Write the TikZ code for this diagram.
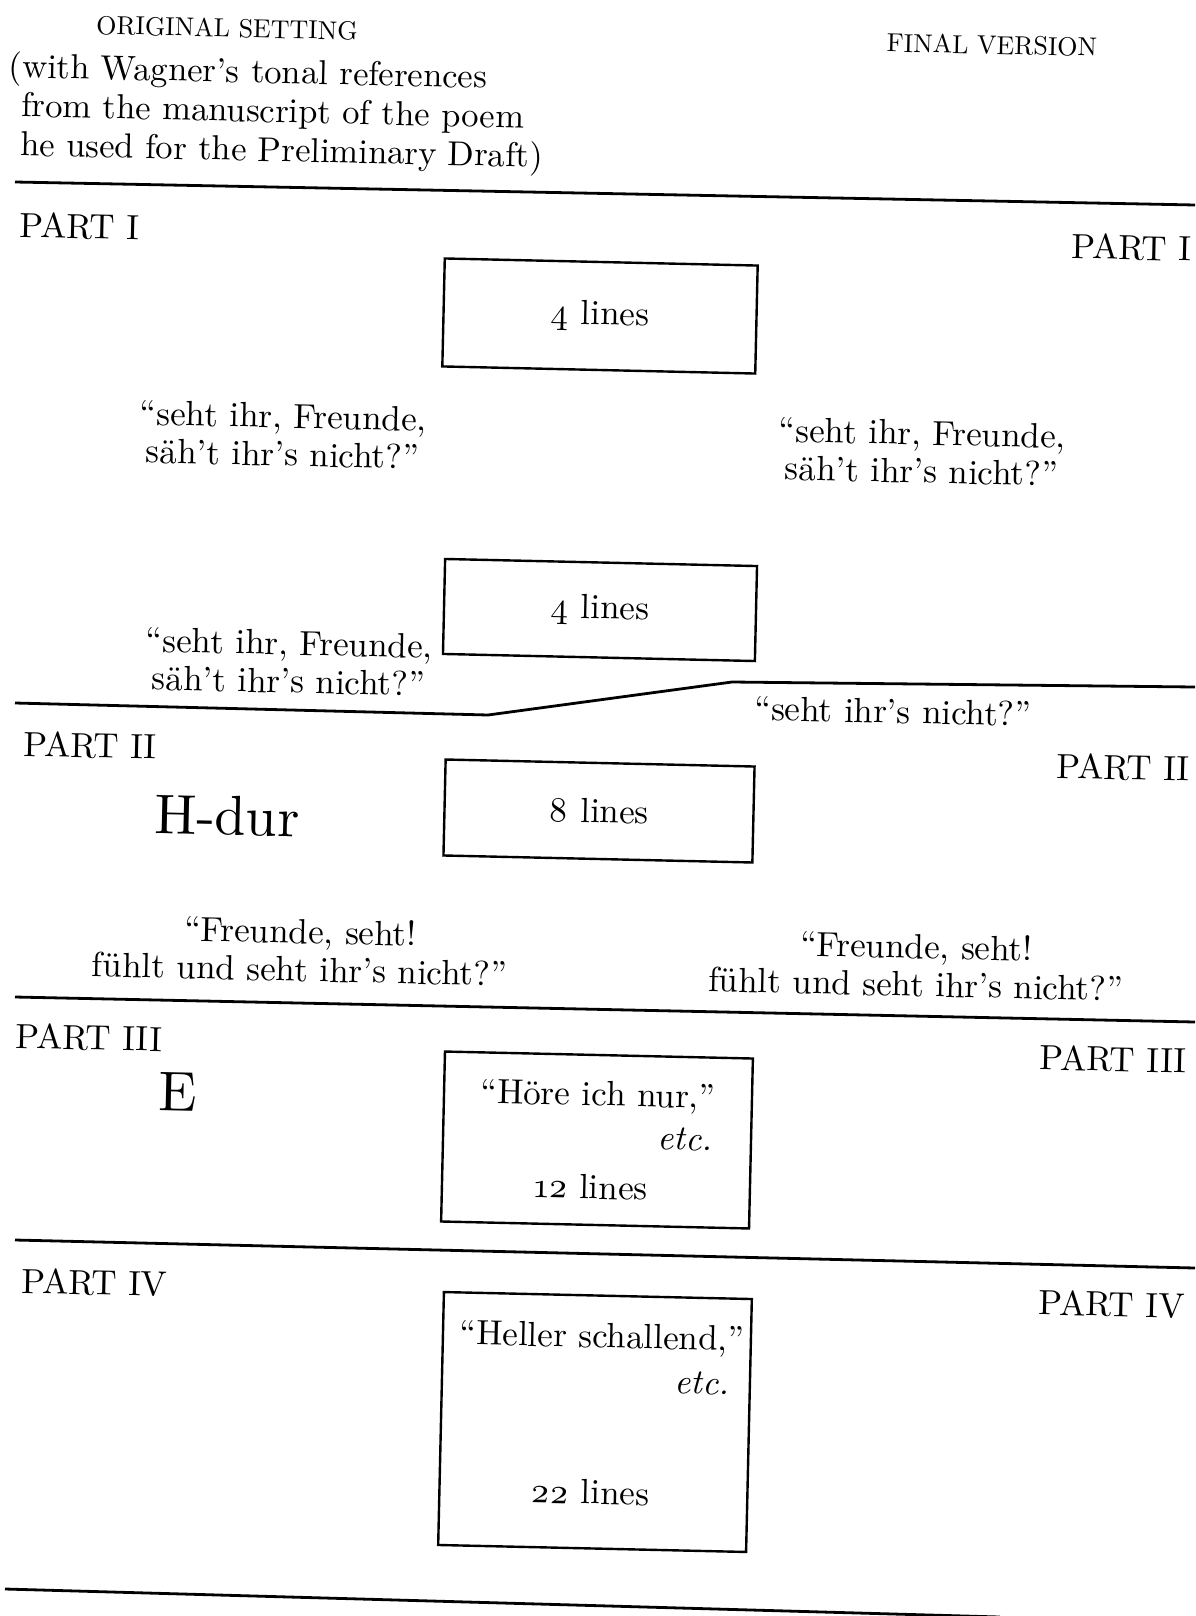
\documentclass[tikz,border=0pt]{standalone}
\usepackage{fontspec}
\setmainfont{lmroman10-regular.otf}[ItalicFont=lmroman10-italic.otf]
\usetikzlibrary{positioning}

\begin{document}
\begin{tikzpicture}[
			x=0.5pt, y=-0.5pt,
			every node/.style={
					inner sep=0pt,
					rotate=-1.3
				},
			txt/.style={
					font=\fontsize{17.5}{19}\selectfont,
					align=center
				},
			head/.style={font=\fontsize{13}{15}\selectfont},
			key/.style={font=\fontsize{28}{30}\selectfont},
			linesbox/.style={
					draw,
					line width=1.2pt,
					font=\fontsize{17.5}{19}\selectfont
				},
			rule/.style={line width=1.4pt}
		]

		\path[use as bounding box, fill=white] (0,0) rectangle (1195,1616);

		% headings
		\node[head] (orig) at (227,28) {ORIGINAL SETTING};
		\node[txt, align=left, anchor=west,
			font=\fontsize{17.3}{19.5}\selectfont] (note) at (21,108)
		{\llap{(}with Wagner’s tonal references\\
			from the manuscript of the poem\\
			he used for the Preliminary Draft)};
		\node[head] (final) at (992,45) {FINAL VERSION};

		\draw[rule] (15,182) -- (1195,205);

		% part I
		\node[txt, anchor=west] (p1l) at (19,225) {PART I};
		\node[txt, anchor=east] (p1r) at (1192,249) {PART I};
		\node[linesbox, minimum width=156.5pt, minimum height=54pt]
		(box1) at (600,316) {\oldstylenums{4} lines};
		\node[txt] (q1l) at (283,435) {“seht ihr, Freunde,\\säh’t ihr’s nicht?”};
		\node[txt] (q1r) at (922,452) {“seht ihr, Freunde,\\säh’t ihr’s nicht?”};
		\node[linesbox, minimum width=156pt, minimum height=47.5pt]
		(box2) at (600,610) {\oldstylenums{4} lines};
		\node[txt] (q2l) at (289,662) {“seht ihr, Freunde,\\säh’t ihr’s nicht?”};

		\draw[rule] (15,703) -- (488,715) -- (732,682) -- (1195,687);
		\node[txt] (q2r) at (893,711) {“seht ihr’s nicht?”};

		% part II
		\node[txt, anchor=west] (p2l) at (23,744) {PART II};
		\node[txt, anchor=east] (p2r) at (1190,769) {PART II};
		\node[key] (hdur) at (227,816) {H-dur};
		\node[linesbox, minimum width=154.5pt, minimum height=48pt]
		(box3) at (599,811) {\oldstylenums{8} lines};
		\node[txt] (q3l) at (300,950) {“Freunde, seht!\\fühlt und seht ihr’s nicht?”};
		\node[txt] (q3r) at (916,965) {“Freunde, seht!\\fühlt und seht ihr’s nicht?”};

		\draw[rule] (15,997) -- (1195,1022);

		% part III
		\node[txt, anchor=west] (p3l) at (15,1036) {PART III};
		\node[txt, anchor=east] (p3r) at (1187,1061) {PART III};
		\node[key] (ekey) at (178,1092) {E};
		\node[linesbox, minimum width=154pt, minimum height=85pt]
		(box4) at (597,1140) {};
		\node[txt] (hore) at (598,1097) {“Höre ich nur,”};
		\node[txt, anchor=east] (etc4) at (713,1140) {\textit{etc.}};
		\node[txt] (n12) at (591,1187) {\oldstylenums{12} lines};

		\draw[rule] (15,1240) -- (1195,1268);

		% part IV
		\node[txt, anchor=west] (p4l) at (21,1281) {PART IV};
		\node[txt, anchor=east] (p4r) at (1185,1306) {PART IV};
		\node[linesbox, minimum width=154pt, minimum height=126.5pt]
		(box5) at (595,1422) {};
		\node[txt] (heller) at (602,1339) {“Heller schallend,”};
		\node[txt, anchor=east] (etc5) at (730,1384) {\textit{etc.}};
		\node[txt] (n22) at (590,1492) {\oldstylenums{22} lines};

		\draw[rule] (5,1589) -- (1000,1617);

	\end{tikzpicture}
\end{document}
